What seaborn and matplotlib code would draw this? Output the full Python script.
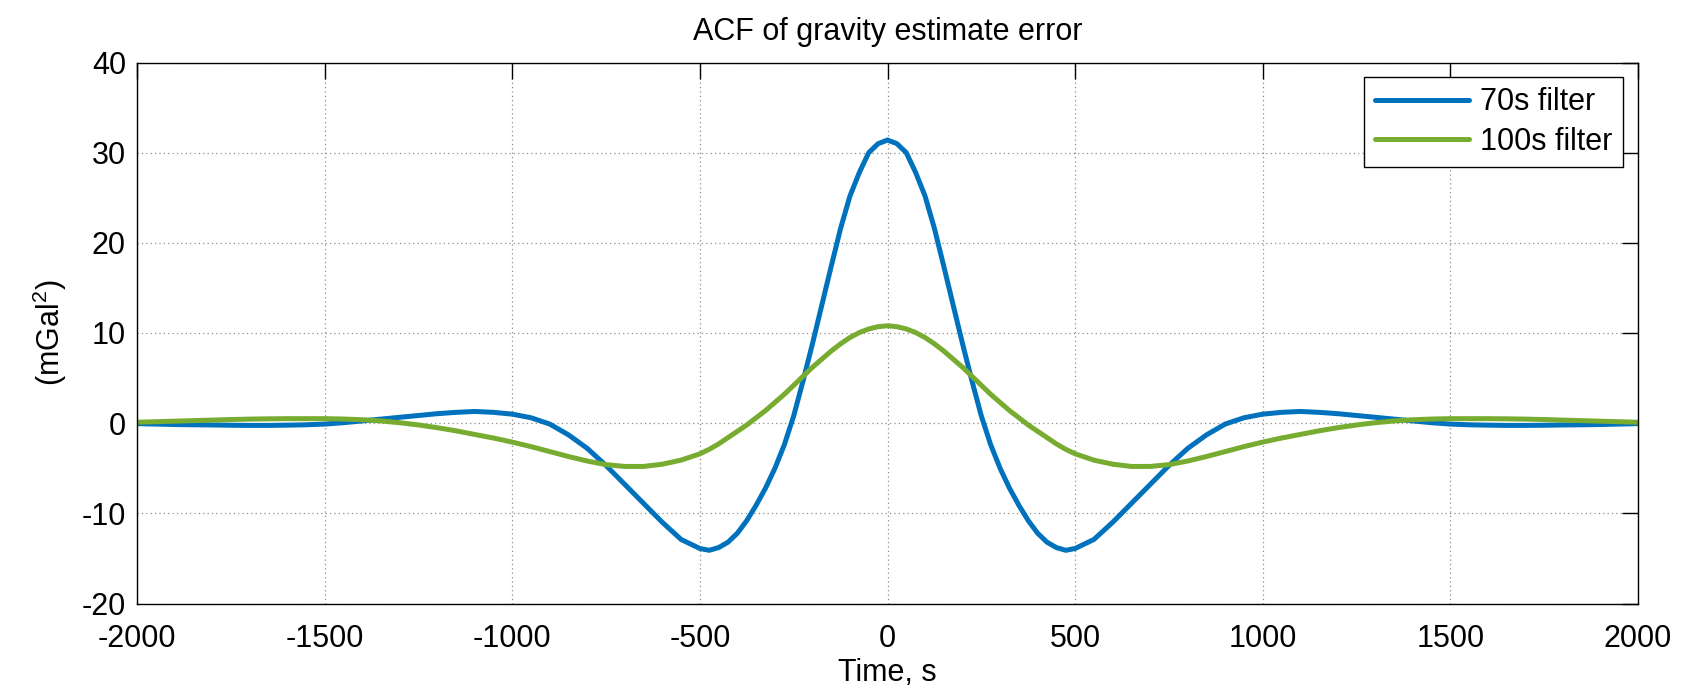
import matplotlib; matplotlib.use('Agg')
import numpy as np
import seaborn as sns
import matplotlib.pyplot as plt

# Lag times (s), 50 s steps on the tails, 25 s steps around the centre
time_s = [-2000, -1950, -1900, -1850, -1800, -1750, -1700, -1650, -1600, -1550,
          -1500, -1450, -1400, -1350, -1300, -1250, -1200, -1150, -1100, -1050,
          -1000, -950, -900, -850, -800, -750, -700, -650, -600, -550,
          -500, -475, -450, -425, -400, -375, -350, -325, -300, -275,
          -250, -225, -200, -175, -150, -125, -100, -75, -50, -25,
          0,
          25, 50, 75, 100, 125, 150, 175, 200, 225, 250,
          275, 300, 325, 350, 375, 400, 425, 450, 475, 500,
          550, 600, 650, 700, 750, 800, 850, 900, 950, 1000,
          1050, 1100, 1150, 1200, 1250, 1300, 1350, 1400, 1450, 1500,
          1550, 1600, 1650, 1700, 1750, 1800, 1850, 1900, 1950, 2000]

# ACF, 70 s filter (mGal^2)
acf_70s = [-0.05, -0.1, -0.15, -0.18, -0.2, -0.23, -0.25, -0.25, -0.22, -0.18,
           -0.1, 0.05, 0.25, 0.45, 0.65, 0.85, 1.05, 1.2, 1.3, 1.2,
           1.0, 0.6, -0.1, -1.3, -2.8, -4.7, -6.8, -8.9, -11.0, -12.9,
           -13.9, -14.1, -13.8, -13.2, -12.2, -10.8, -9.1, -7.2, -5.0, -2.4,
           0.8, 4.7, 8.8, 13.1, 17.4, 21.6, 25.2, 27.8, 30.0, 31.0,
           31.4,
           31.0, 30.0, 27.8, 25.2, 21.6, 17.4, 13.1, 8.8, 4.7, 0.8,
           -2.4, -5.0, -7.2, -9.1, -10.8, -12.2, -13.2, -13.8, -14.1, -13.9,
           -12.9, -11.0, -8.9, -6.8, -4.7, -2.8, -1.3, -0.1, 0.6, 1.0,
           1.2, 1.3, 1.2, 1.05, 0.85, 0.65, 0.45, 0.25, 0.05, -0.1,
           -0.18, -0.22, -0.25, -0.25, -0.23, -0.2, -0.18, -0.15, -0.1, -0.05]

# ACF, 100 s filter (mGal^2)
acf_100s = [0.1, 0.16, 0.22, 0.28, 0.34, 0.4, 0.45, 0.48, 0.5, 0.5,
            0.5, 0.46, 0.38, 0.25, 0.05, -0.2, -0.5, -0.85, -1.25, -1.65,
            -2.1, -2.6, -3.15, -3.7, -4.2, -4.6, -4.8, -4.8, -4.55, -4.1,
            -3.4, -2.9, -2.3, -1.6, -0.9, -0.2, 0.6, 1.4, 2.3, 3.2,
            4.2, 5.2, 6.2, 7.1, 8.0, 8.8, 9.5, 10.05, 10.45, 10.7,
            10.8,
            10.7, 10.45, 10.05, 9.5, 8.8, 8.0, 7.1, 6.2, 5.2, 4.2,
            3.2, 2.3, 1.4, 0.6, -0.2, -0.9, -1.6, -2.3, -2.9, -3.4,
            -4.1, -4.55, -4.8, -4.8, -4.6, -4.2, -3.7, -3.15, -2.6, -2.1,
            -1.65, -1.25, -0.85, -0.5, -0.2, 0.05, 0.25, 0.38, 0.46, 0.5,
            0.5, 0.5, 0.48, 0.45, 0.4, 0.34, 0.28, 0.22, 0.16, 0.1]

series_labels = ['70s filter', '100s filter']
series_colors = ['#0072BD', '#77AC30']
x_ticks = [-2000, -1500, -1000, -500, 0, 500, 1000, 1500, 2000]
y_ticks = [-20, -10, 0, 10, 20, 30, 40]

sns.set_style('white')
plt.rcParams['font.family'] = ['Liberation Sans', 'DejaVu Sans']
plt.rcParams['mathtext.fontset'] = 'custom'
plt.rcParams['mathtext.rm'] = 'Liberation Sans'
plt.rcParams['mathtext.it'] = 'Liberation Sans'
plt.rcParams['axes.unicode_minus'] = False
plt.rcParams['text.color'] = 'black'
plt.rcParams['axes.labelcolor'] = 'black'

W, H = 1689, 693
fig = plt.figure(figsize=(W / 100, H / 100), dpi=100)
ax = fig.add_axes([137 / W, 1 - 603.5 / H, (1638 - 137) / W, (603.5 - 62.5) / H])

for yvals, lab, col in zip([acf_70s, acf_100s], series_labels, series_colors):
    sns.lineplot(x=time_s, y=yvals, ax=ax, color=col, lw=3.6, label=lab)

ax.set_xlim(-2000, 2000)
ax.set_ylim(-20, 40)
ax.set_xticks(x_ticks)
ax.set_yticks(y_ticks)
ax.grid(True, linestyle=(0, (1, 2.5)), color='#8c8c8c', lw=0.9)
ax.tick_params(direction='in', length=11.5, width=1, top=True, right=True,
               labelsize=22, colors='black')
ax.tick_params(axis='x', pad=15)
ax.tick_params(axis='y', pad=8)
for sp in ax.spines.values():
    sp.set_color('black')
    sp.set_linewidth(1.0)

ax.set_xlabel('')
ax.set_ylabel('')
ax.set_title('ACF of gravity estimate error', fontsize=22, pad=16, color='black')
fig.text(887.5 / W, 1 - 681 / H, 'Time, s', fontsize=22, ha='center', va='baseline')
fig.text(50 / W, 1 - 333 / H, r'(mGal$^{2}$)', fontsize=22, rotation=90,
         ha='center', va='center')

leg = ax.legend(loc='upper right', bbox_to_anchor=(1623 / W, 1 - 76.7 / H),
                bbox_transform=fig.transFigure, borderaxespad=0, fontsize=22,
                handlelength=3.1, handletextpad=0.35, labelspacing=0.3,
                borderpad=0.35, fancybox=False, framealpha=1)
leg.get_frame().set_edgecolor('black')
leg.get_frame().set_linewidth(1.0)
for t in leg.get_texts():
    t.set_color('black')

fig.savefig('out.png', dpi=100)
